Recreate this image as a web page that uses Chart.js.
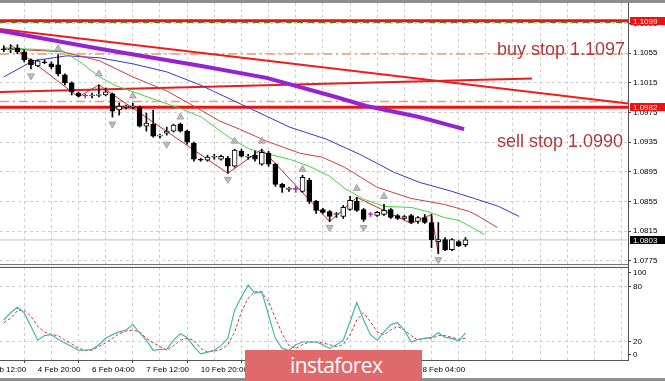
<!DOCTYPE html>
<html><head><meta charset="utf-8">
<script src="https://cdn.jsdelivr.net/npm/chart.js@4/dist/chart.umd.min.js"></script>
<style>
html,body{margin:0;padding:0;background:#fff;}
#wrap{position:relative;width:665px;height:381px;overflow:hidden;background:#fff;}
canvas{position:absolute;left:0;top:0;}
.note{position:absolute;font-family:"Liberation Sans",Arial,sans-serif;font-size:18px;line-height:18px;color:#b03a3a;white-space:nowrap;}
#logo{position:absolute;left:245px;top:350px;width:177px;height:31px;background:#e06a6b;}
#logo span{position:absolute;left:45px;top:2px;font-family:"Open Sans",sans-serif;font-weight:400;font-size:21px;line-height:26px;color:#fff;letter-spacing:-0.6px;}
</style></head><body>
<div id="wrap">
<canvas id="c" width="665" height="381"></canvas>
<div class="note" style="left:497px;top:40px">buy stop 1.1097</div>
<div class="note" style="left:497px;top:132px">sell stop 1.0990</div>
<div id="logo"><span>instaforex</span></div>
</div>
<script>
// ---- data (bar index = H4 bar, 0 = 4 Feb 00:00) ----
const open  = [1.10611,1.10598,1.10625,1.10570,1.10462,1.10381,1.10435,1.10408,1.10394,1.10259,1.10150,1.10014,1.09974,1.09974,1.09981,1.09987,1.10001,1.09784,1.09825,1.09825,1.09825,1.09567,1.09594,1.09431,1.09472,1.09499,1.09594,1.09499,1.09336,1.09119,1.09106,1.09147,1.09119,1.09133,1.09025,1.09228,1.09147,1.09174,1.09052,1.09201,1.09052,1.08780,1.08713,1.08713,1.08686,1.08835,1.08550,1.08441,1.08414,1.08374,1.08346,1.08441,1.08550,1.08441,1.08374,1.08360,1.08374,1.08441,1.08360,1.08319,1.08360,1.08279,1.08333,1.08265,1.08008,1.08035,1.07899,1.08008,1.07967];
const high  = [1.10652,1.10665,1.10665,1.10598,1.10475,1.10462,1.10462,1.10435,1.10530,1.10272,1.10164,1.10028,1.10001,1.10014,1.10123,1.10082,1.10014,1.09879,1.09852,1.09879,1.09838,1.09743,1.09784,1.09458,1.09553,1.09594,1.09608,1.09513,1.09350,1.09133,1.09174,1.09187,1.09174,1.09160,1.09255,1.09255,1.09187,1.09228,1.09255,1.09228,1.09065,1.08794,1.08740,1.08753,1.08903,1.08862,1.08564,1.08455,1.08428,1.08401,1.08496,1.08618,1.08604,1.08455,1.08401,1.08414,1.08509,1.08455,1.08374,1.08360,1.08374,1.08346,1.08374,1.08374,1.08265,1.08062,1.08048,1.08021,1.08062];
const low   = [1.10570,1.10557,1.10543,1.10435,1.10340,1.10367,1.10408,1.10340,1.10245,1.10123,1.09987,1.09960,1.09947,1.09947,1.09960,1.09974,1.09689,1.09716,1.09797,1.09797,1.09553,1.09499,1.09418,1.09404,1.09445,1.09486,1.09486,1.09323,1.09092,1.09092,1.09092,1.09119,1.09106,1.08930,1.09011,1.09147,1.09119,1.09092,1.09038,1.09025,1.08753,1.08672,1.08686,1.08672,1.08672,1.08523,1.08387,1.08387,1.08279,1.08333,1.08319,1.08428,1.08414,1.08279,1.08346,1.08346,1.08360,1.08319,1.08306,1.08306,1.08252,1.08252,1.08252,1.07926,1.07845,1.07885,1.07885,1.07940,1.07940];
const close = [1.10598,1.10611,1.10570,1.10462,1.10394,1.10448,1.10422,1.10367,1.10272,1.10150,1.10028,1.09974,1.09987,1.09987,1.09994,1.10028,1.09770,1.09838,1.09838,1.09838,1.09567,1.09608,1.09431,1.09444,1.09499,1.09581,1.09499,1.09350,1.09119,1.09106,1.09147,1.09160,1.09160,1.09025,1.09242,1.09160,1.09160,1.09119,1.09214,1.09052,1.08780,1.08740,1.08726,1.08726,1.08875,1.08550,1.08428,1.08401,1.08346,1.08387,1.08469,1.08564,1.08428,1.08306,1.08387,1.08401,1.08428,1.08333,1.08319,1.08346,1.08265,1.08333,1.08265,1.08035,1.08035,1.07899,1.08035,1.07953,1.08030];
const purpleBars = [12,43,54];

// Alligator-style moving averages and long MA: [bar index, price]
const lips  = [[0,1.10625],[8.7,1.10584],[11.6,1.10408],[14.1,1.10231],[16.6,1.10109],[21.2,1.0996],[26.2,1.09797],[29.1,1.09689],[31.1,1.09553],[33.6,1.09391],[36.2,1.09255],[39.1,1.09187],[42.1,1.09119],[45,1.09025],[48,1.08889],[50.2,1.08726],[53.1,1.08577],[56.1,1.08482],[60,1.08469],[62.4,1.08414],[64.9,1.08333],[67.1,1.08292],[69,1.08197],[70.8,1.08102]];
const teeth = [[0,1.10611],[8.7,1.1057],[14.1,1.10448],[19,1.10231],[24,1.10042],[27.7,1.09852],[31.8,1.09635],[34.7,1.09526],[38.7,1.09364],[43.6,1.09201],[46.9,1.09147],[50.2,1.09011],[55,1.0874],[60,1.0859],[64.9,1.08509],[68.6,1.08414],[70,1.08347],[72.7,1.08197]];
const jaw   = [[0,1.10231],[4.3,1.10448],[9.3,1.10516],[14.1,1.10489],[19,1.10408],[24,1.10299],[28.9,1.10123],[35.2,1.09852],[42.1,1.09553],[47.5,1.09391],[52.4,1.09187],[57.5,1.08943],[61.2,1.08808],[66,1.08686],[69.3,1.0859],[72.9,1.08482],[75.9,1.08347]];
const longMA = [[-0.56,1.10855],[14.1,1.10611],[28.9,1.10381],[38.7,1.10218],[48.4,1.09974],[53.4,1.09838],[61.2,1.09689],[67.8,1.09526]];
const zigzag = [[1,1.10665],[11,1.0996],[14,1.10123],[33,1.0893],[38,1.09255],[48,1.08279],[52,1.08604],[60,1.08252],[63,1.08374],[64,1.07845]];
const fracUp   = [[8,1.10611],[14,1.10272],[19,1.09974],[26,1.09689],[34,1.09364],[38,1.09364],[44,1.08984],[52,1.08726],[56,1.08618]];
const fracDown = [[4,1.10245],[16,1.09594],[24,1.09323],[33,1.08848],[48,1.08197],[53,1.08197],[64,1.07763]];

// drawn objects
const trendDown = [[-0.56,1.10878],[91.94,1.09872]];
const trendUp   = [[-0.56,1.10028],[77.8,1.1021]];
const redLevels = [1.1099, 1.0982];
const buyStopLevel = 1.1097;
const dashDotLevels = [1.1054, 1.0990];
const bidPrice = 1.0803;

// stochastic
const stochK = [44,52,58,52,37,22,27,28,23,19,15,11,11,12,17,24,28,31,33,39,30,22,11,12,12,22,29,25,15,7,9,11,16,24,55,69,82,73,75,49,24,13,11,17,20,20,20,17,13,17,22,42,63,44,28,22,31,39,41,33,20,23,24,25,30,25,24,21,30];
const stochD = [41,46,54,55,48,37,31,28,27,22,18,13,11,11,15,19,24,29,32,33,31,24,19,15,11,16,22,24,22,13,9,10,12,17,31,53,68,75,74,64,46,29,16,13,17,20,20,19,17,15,17,28,44,52,42,31,28,33,37,33,27,22,24,24,27,27,25,23,24];

// axes
const priceTicks = [1.1095,1.1055,1.1015,1.0975,1.0935,1.0895,1.0855,1.0815,1.0775];
const stochLevels = [0,20,80,100];
const gridIdx = [];
for (let i=-3;i<=89;i+=4) gridIdx.push(i);
const dateIdx  = [-3,5,13,21,29,37,45,53,61];
const dateText = ['3 Feb 12:00','4 Feb 20:00','6 Feb 04:00','7 Feb 12:00','10 Feb 20:00','12 Feb 04:00','13 Feb 12:00','14 Feb 20:00','18 Feb 04:00'];

// ---- chart ----
Chart.defaults.font.family = '"Liberation Sans", Arial, sans-serif';
Chart.defaults.font.size = 8;
Chart.defaults.color = '#000';

const idx = open.map((_,i)=>i);
const isPurple = i => purpleBars.includes(i);
const pts = a => a.map(p=>({x:p[0],y:p[1]}));
const hline = (v,a,b)=>[{x:a,y:v},{x:b,y:v}];
const XMIN=-0.56, XMAX=91.94;

const lineDs = (data,color,width,order,extra) => Object.assign({type:'line',data,borderColor:color,borderWidth:width,pointRadius:0,tension:0,fill:false,order,yAxisID:'y'},extra||{});

const datasets = [
  {type:'bar',data:idx.map(i=>({x:i,y:[open[i],close[i]]})),grouped:false,barThickness:5,borderSkipped:false,borderWidth:1,
   backgroundColor:idx.map(i=>isPurple(i)?'#9a2cc8':(close[i]<open[i]?'#000':'#fff')),
   borderColor:idx.map(i=>isPurple(i)?'#9a2cc8':'#000'),order:1,yAxisID:'y'},
  {type:'bar',data:idx.map(i=>({x:i,y:[low[i],high[i]]})),grouped:false,barThickness:1,borderWidth:0,
   backgroundColor:idx.map(i=>isPurple(i)?'#9a2cc8':'#000'),order:2,yAxisID:'y'},
  {type:'line',data:pts(fracUp),showLine:false,pointStyle:'triangle',pointRadius:4,pointBackgroundColor:'#bcbcbc',pointBorderColor:'#a4a4a4',pointBorderWidth:1,order:3,yAxisID:'y'},
  {type:'line',data:pts(fracDown),showLine:false,pointStyle:'triangle',pointRotation:180,pointRadius:4,pointBackgroundColor:'#bcbcbc',pointBorderColor:'#a4a4a4',pointBorderWidth:1,order:3,yAxisID:'y'},
  lineDs(pts(zigzag),'#cc2a2a',1,4),
  lineDs(pts(lips),'#44d044',1,5),
  lineDs(pts(teeth),'#cc3d3d',1,6),
  lineDs(pts(jaw),'#3838c4',1,7),
  lineDs(pts(longMA),'#9424d0',4,8),
  lineDs(pts(trendDown),'#ee1c1c',2,9),
  lineDs(pts(trendUp),'#e41e1e',2,9),
  lineDs(hline(buyStopLevel,XMIN,XMAX),'#2e8f2e',1.5,9,{borderDash:[6,5]}),
  lineDs(hline(redLevels[0],XMIN,XMAX),'#f01010',3,10),
  lineDs(hline(redLevels[1],XMIN,XMAX),'#f01010',3,10),
  lineDs(hline(dashDotLevels[0],XMIN,XMAX),'#e0a07c',1.5,11,{borderDash:[9,4,2,4]}),
  lineDs(hline(dashDotLevels[1],XMIN,XMAX),'#e0a07c',1.5,11,{borderDash:[9,4,2,4]}),
  lineDs(hline(bidPrice,XMIN,XMAX),'#c4c4c4',1,12),
  {type:'line',data:idx.map(i=>({x:i,y:stochK[i]})),borderColor:'#45b5ad',borderWidth:1.2,pointRadius:0,tension:0,fill:false,order:1,yAxisID:'ys'},
  {type:'line',data:idx.map(i=>({x:i,y:stochD[i]})),borderColor:'#d23a3a',borderWidth:1,borderDash:[3,2],pointRadius:0,tension:0,fill:false,order:2,yAxisID:'ys'}
];

const boxes = [{v:redLevels[0],bg:'#f01010'},{v:redLevels[1],bg:'#f01010'},{v:bidPrice,bg:'#000'}];

const frame = {
  id:'frame',
  afterDraw(chart){
    const ctx=chart.ctx, ca=chart.chartArea, y=chart.scales.y;
    ctx.save();
    ctx.fillStyle='#8e8e8e'; ctx.fillRect(0,0,665,3);
    ctx.fillStyle='#f4f4f4'; ctx.fillRect(0,Math.round(y.bottom)-1,ca.right,3);
    ctx.fillStyle='#777'; ctx.fillRect(0,Math.round(y.bottom)-2,ca.right,1);
    ctx.fillStyle='#555'; ctx.fillRect(0,Math.round(y.bottom)+1,ca.right,1);
    ctx.fillStyle='#8e8e8e'; ctx.fillRect(0,378,665,3);
    ctx.font='8px "Liberation Sans", Arial, sans-serif';
    ctx.textBaseline='middle'; ctx.textAlign='left';
    for (const b of boxes){
      const py=Math.round(y.getPixelForValue(b.v));
      ctx.fillStyle=b.bg; ctx.fillRect(630,py-4,35,8);
      ctx.fillStyle='#fff'; ctx.fillText(b.v.toFixed(4),633,py+0.5);
    }
    ctx.restore();
  }
};

new Chart(document.getElementById('c'),{
  type:'line',
  data:{datasets},
  plugins:[frame],
  options:{
    responsive:false, animation:false, devicePixelRatio:1,
    layout:{autoPadding:false,padding:{top:3,left:0,right:0,bottom:0}},
    plugins:{legend:{display:false},tooltip:{enabled:false}},
    scales:{
      x:{type:'linear',position:'bottom',min:XMIN,max:XMAX,offset:false,
        afterBuildTicks:s=>{s.ticks=gridIdx.map(v=>({value:v}));},
        afterFit:s=>{s.height=21;s.paddingLeft=0;s.paddingRight=0;},
        grid:{color:'#cfcfcf',lineWidth:1,drawTicks:true,tickLength:3,
              tickColor:c=>(c.tick && dateIdx.includes(c.tick.value))?'#444':'rgba(0,0,0,0)'},
        border:{display:true,color:'#555',width:1,dash:[3,3]},
        ticks:{autoSkip:false,maxRotation:0,minRotation:0,align:'start',padding:2,color:'#000',
               callback:v=>{const k=dateIdx.indexOf(v);return k>=0?dateText[k]:'';}}
      },
      y:{type:'linear',position:'right',stack:'p',stackWeight:263,weight:0,min:1.07678,max:1.11229,
        afterBuildTicks:s=>{s.ticks=priceTicks.map(v=>({value:v}));},
        afterFit:s=>{s.width=37;s.paddingTop=0;s.paddingBottom=0;},
        grid:{color:'#cfcfcf',tickLength:3,tickColor:'#444'},
        border:{display:true,color:'#555',width:1,dash:[3,3]},
        ticks:{padding:2,color:'#000',callback:v=>v.toFixed(4)}
      },
      ys:{type:'linear',position:'right',stack:'p',stackWeight:94,weight:1,min:0.36,max:102.9,
        afterBuildTicks:s=>{s.ticks=stochLevels.map(v=>({value:v===0?6.5:(v===100?95.5:v)}));},
        afterFit:s=>{s.width=37;s.paddingTop=0;s.paddingBottom=0;},
        grid:{color:c=>(c.tick && (c.tick.value===20||c.tick.value===80))?'#cfcfcf':'rgba(0,0,0,0)',tickLength:3,tickColor:'#444'},
        border:{display:true,color:'#555',width:1,dash:[3,3]},
        ticks:{padding:2,color:'#000',callback:(v,i)=>String(stochLevels[i])}
      }
    }
  }
});
</script>
</body></html>
